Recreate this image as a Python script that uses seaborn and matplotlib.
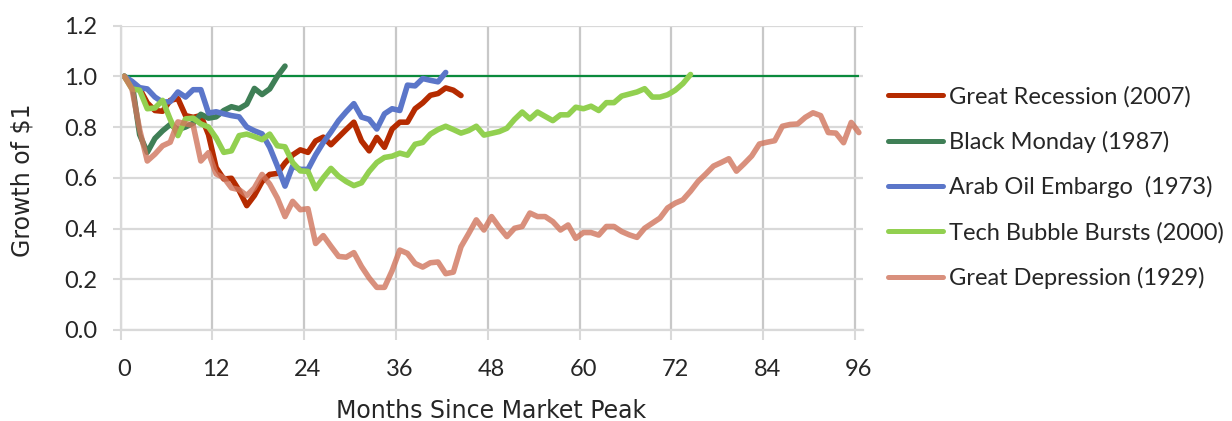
import matplotlib
matplotlib.use("Agg")
import matplotlib.pyplot as plt
import numpy as np
import pandas as pd
import seaborn as sns
from matplotlib.lines import Line2D

# ---------------- data (growth of $1, months since market peak) ----------------
great_recession = [1.00, 0.958, 0.951, 0.895, 0.865, 0.862, 0.905, 0.912, 0.845, 0.838,
                   0.845, 0.77, 0.64, 0.595, 0.598, 0.55, 0.49, 0.53, 0.585, 0.613,
                   0.617, 0.658, 0.69, 0.71, 0.70, 0.745, 0.76, 0.73, 0.76, 0.79,
                   0.819, 0.745, 0.706, 0.759, 0.72, 0.792, 0.819, 0.819, 0.872, 0.895,
                   0.925, 0.932, 0.954, 0.945, 0.924]
black_monday = [1.00, 0.975, 0.77, 0.70, 0.755, 0.785, 0.81, 0.79, 0.80, 0.815,
                0.85, 0.835, 0.84, 0.865, 0.88, 0.872, 0.89, 0.952, 0.928, 0.95,
                1.0, 1.04]
arab_oil = [1.00, 0.98, 0.955, 0.95, 0.918, 0.898, 0.90, 0.938, 0.918, 0.947,
            0.947, 0.855, 0.86, 0.852, 0.845, 0.84, 0.80, 0.785, 0.773, 0.72,
            0.646, 0.567, 0.646, 0.633, 0.633, 0.69, 0.739, 0.78, 0.825, 0.86,
            0.892, 0.839, 0.83, 0.792, 0.852, 0.872, 0.865, 0.965, 0.962, 0.991,
            0.984, 0.978, 1.015]
tech_bubble = [1.00, 0.95, 0.945, 0.872, 0.875, 0.905, 0.83, 0.766, 0.832, 0.835,
               0.812, 0.80, 0.757, 0.70, 0.706, 0.766, 0.772, 0.762, 0.75, 0.772,
               0.726, 0.722, 0.66, 0.627, 0.625, 0.557, 0.60, 0.637, 0.606, 0.585,
               0.569, 0.58, 0.625, 0.66, 0.68, 0.685, 0.697, 0.689, 0.732, 0.739,
               0.772, 0.79, 0.803, 0.79, 0.776, 0.786, 0.803, 0.768, 0.775, 0.782,
               0.795, 0.83, 0.859, 0.832, 0.859, 0.842, 0.825, 0.848, 0.848, 0.878,
               0.872, 0.882, 0.865, 0.896, 0.896, 0.922, 0.93, 0.938, 0.951, 0.918,
               0.918, 0.927, 0.945, 0.971, 1.007]
great_depression = [1.00, 0.95, 0.79, 0.666, 0.693, 0.726, 0.74, 0.82, 0.813, 0.806,
                    0.666, 0.699, 0.615, 0.60, 0.56, 0.553, 0.53, 0.56, 0.613, 0.575,
                    0.52, 0.447, 0.507, 0.474, 0.478, 0.341, 0.372, 0.33, 0.29, 0.287,
                    0.305, 0.25, 0.205, 0.168, 0.168, 0.234, 0.315, 0.302, 0.262, 0.248,
                    0.265, 0.268, 0.222, 0.228, 0.328, 0.38, 0.434, 0.394, 0.447, 0.405,
                    0.368, 0.401, 0.408, 0.461, 0.447, 0.447, 0.427, 0.394, 0.414, 0.361,
                    0.384, 0.384, 0.374, 0.408, 0.408, 0.388, 0.375, 0.365, 0.401, 0.421,
                    0.441, 0.481, 0.50, 0.513, 0.547, 0.586, 0.615, 0.646, 0.66, 0.675,
                    0.626, 0.655, 0.686, 0.733, 0.74, 0.746, 0.803, 0.81, 0.812, 0.838,
                    0.856, 0.845, 0.778, 0.776, 0.738, 0.818, 0.778]

series_names = ["Great Recession (2007)", "Black Monday (1987)",
                "Arab Oil Embargo  (1973)", "Tech Bubble Bursts (2000)",
                "Great Depression (1929)"]
series_values = [great_recession, black_monday, arab_oil, tech_bubble, great_depression]
series_colors = ["#B52B00", "#3F7F56", "#5B76C9", "#92D050", "#D0755C"]
series_alpha = [1.0, 1.0, 1.0, 1.0, 0.8]

breakeven = 1.0
x_ticks = [0, 12, 24, 36, 48, 60, 72, 84, 96]
y_ticks = [0.0, 0.2, 0.4, 0.6, 0.8, 1.0, 1.2]
y_tick_labels = ["0.0", "0.2", "0.4", "0.6", "0.8", "1.0", "1.2"]

rows = []
for name, vals in zip(series_names, series_values):
    for m, v in enumerate(vals):
        rows.append({"month": m, "value": v, "event": name})
df = pd.DataFrame(rows)

# ---------------- style ----------------
sns.set_theme(style="white")
plt.rcParams["font.family"] = ["Lato", "DejaVu Sans"]
text_color = "#262626"
grid_h = "#D9D9D9"
grid_v = "#C8C8C8"
fs = 17

fig = plt.figure(figsize=(12.32, 4.21), dpi=100)
ax = fig.add_axes([120.5 / 1232, 1 - 330 / 421, (862.7 - 120.5) / 1232, (330 - 25.5) / 421])

ax.hlines(breakeven, 0, max(len(v) for v in series_values) - 1,
          color="#0A8A3C", lw=1.6, zorder=1.8)

sns.lineplot(data=df, x="month", y="value", hue="event", hue_order=series_names,
             palette=series_colors, linewidth=4.0, sort=False, estimator=None,
             legend=False, ax=ax, zorder=2)
for line, a in zip(ax.lines, series_alpha):
    line.set_alpha(a)
    line.set_solid_capstyle("round")
    line.set_solid_joinstyle("round")

ax.set_xlim(-0.5, 96.5)
ax.set_ylim(0, 1.2)

ax.set_xticks(x_ticks)
ax.set_xticklabels([str(t) for t in x_ticks])
ax.set_xticks([t - 0.5 for t in x_ticks], minor=True)
ax.tick_params(axis="x", which="major", length=0, pad=21, labelsize=fs, labelcolor=text_color)
ax.tick_params(axis="x", which="minor", length=7, width=1.5, color=grid_h, bottom=True)
ax.set_yticks(y_ticks)
ax.set_yticklabels(y_tick_labels)
ax.tick_params(axis="y", which="major", length=6, width=1.5, color=grid_h, pad=11,
               labelsize=fs, labelcolor=text_color, left=True)

ax.grid(False)
ax.grid(which="minor", axis="x", color=grid_v, lw=1.6)
ax.grid(which="major", axis="y", color=grid_h, lw=1.6)
ax.set_axisbelow(True)

for side in ["top", "right"]:
    ax.spines[side].set_visible(False)
for side in ["left", "bottom"]:
    ax.spines[side].set_color(grid_h)
    ax.spines[side].set_linewidth(1.6)

ax.set_xlabel("")
ax.set_ylabel("")
title_font = ["DejaVu Sans"]
fig.text(491 / 1232, 1 - 418 / 421, "Months Since Market Peak", ha="center", va="baseline",
         fontsize=fs, color=text_color, family=title_font)
fig.text(23 / 1232, 1 - 180 / 421, "Growth of $1", ha="center", va="center",
         rotation=90, fontsize=fs, color=text_color, family=title_font)

handles = [Line2D([], [], color=c, lw=3.6, alpha=a, solid_capstyle="round")
           for c, a in zip(series_colors, series_alpha)]
ax.legend(handles, series_names, loc="upper left",
          bbox_to_anchor=(888 / 1232, 1 - 86 / 421), bbox_transform=fig.transFigure,
          frameon=False, fontsize=fs, handlelength=2.35, handletextpad=0.25,
          labelspacing=0.99, borderpad=0, borderaxespad=0, labelcolor=text_color)

fig.savefig("out.png", dpi=100)
